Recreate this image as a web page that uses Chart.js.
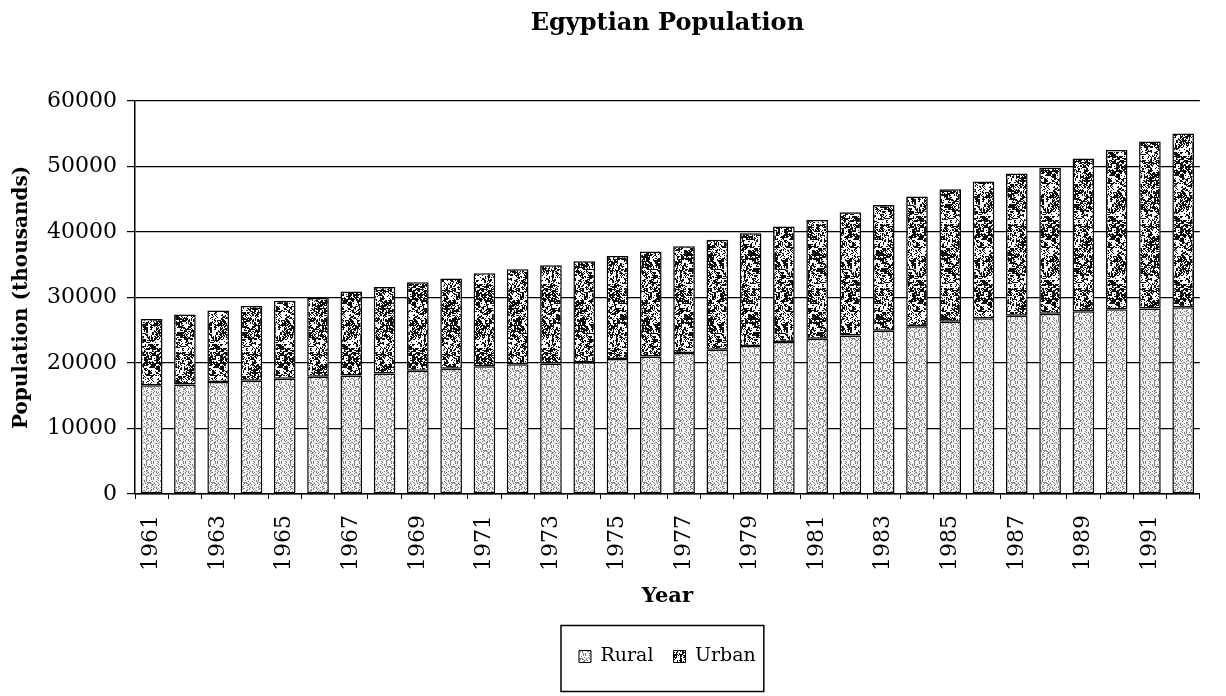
<!DOCTYPE html>
<html>
<head>
<meta charset="utf-8">
<script src="https://cdn.jsdelivr.net/npm/chart.js@4.4.0/dist/chart.umd.min.js"></script>
<style>
  body { margin: 0; background: #fff; }
  #wrap { width: 1226px; height: 696px; }
</style>
</head>
<body>
<div id="wrap"><canvas id="myChart"></canvas></div>
<script>
// Datos (miles de habitantes)
const years = [1961, 1962, 1963, 1964, 1965, 1966, 1967, 1968, 1969, 1970,
  1971, 1972, 1973, 1974, 1975, 1976, 1977, 1978, 1979, 1980,
  1981, 1982, 1983, 1984, 1985, 1986, 1987, 1988, 1989, 1990,
  1991, 1992];
const rural = [16600, 16700, 17100, 17300, 17600, 17900, 18100, 18400, 18800, 19100,
  19500, 19800, 19900, 20100, 20600, 21000, 21500, 22000, 22600, 23200,
  23700, 24200, 24900, 25600, 26300, 26800, 27200, 27500, 27900, 28200,
  28300, 28500];
const urban = [10100, 10700, 10900, 11400, 11900, 12000, 12800, 13200, 13500, 13800,
  14200, 14500, 15000, 15400, 15700, 16000, 16300, 16800, 17200, 17600,
  18100, 18800, 19200, 19800, 20200, 20900, 21700, 22300, 23300, 24300,
  25500, 26500];
const yTicks = [0, 10000, 20000, 30000, 40000, 50000, 60000];

const FONT = "DejaVu Serif";
const ctx = document.getElementById("myChart");

// Texturas de las barras
function hash(x, y, s) {
  let h = (x * 374761393 + y * 668265263 + s * 982451653) | 0;
  h = Math.imul(h ^ (h >>> 13), 1274126177);
  return ((h ^ (h >>> 16)) >>> 0) / 4294967295;
}

function ruralPattern() {
  const n = 16;
  const c = document.createElement("canvas");
  c.width = n; c.height = n;
  const g = c.getContext("2d");
  g.fillStyle = "#f4f4f4";
  g.fillRect(0, 0, n, n);
  g.fillStyle = "#808080";
  for (let y = 0; y < n; y++) {
    for (let x = 0; x < n; x++) {
      if (hash(x, y, 7) < 0.26) g.fillRect(x, y, 1, 1);
    }
  }
  return g.createPattern(c, "repeat");
}

function urbanPattern() {
  const n = 64;
  const c = document.createElement("canvas");
  c.width = n; c.height = n;
  const g = c.getContext("2d");
  g.fillStyle = "#fff";
  g.fillRect(0, 0, n, n);
  g.fillStyle = "#0d0d0d";
  for (let y = 0; y < n; y++) {
    for (let x = 0; x < n; x++) {
      // ruido a varias escalas, el mosaico se repite sin cortes
      const v = 0.4 * hash(x, y, 1) +
        0.35 * hash((x >> 1) % 32, (y >> 1) % 32, 2) +
        0.25 * hash((x >> 2) % 16, (y >> 2) % 16, 3);
      if (v < 0.5) g.fillRect(x, y, 1, 1);
    }
  }
  return g.createPattern(c, "repeat");
}

// Marco alrededor de la leyenda
const legendFrame = {
  id: "legendFrame",
  afterDraw(chart) {
    const boxes = chart.legend.legendHitBoxes;
    if (!boxes || !boxes.length) return;
    const left = Math.min(...boxes.map((b) => b.left)) - 18;
    const right = Math.max(...boxes.map((b) => b.left + b.width)) + 8;
    const cy = boxes[0].top + boxes[0].height / 2;
    const c = chart.ctx;
    c.save();
    c.strokeStyle = "#000";
    c.lineWidth = 1.5;
    c.strokeRect(left, cy - 31, right - left, 66);
    c.restore();
  },
};

const myChart = new Chart(ctx, {
  type: "bar",
  data: {
    labels: years,
    datasets: [
      {
        label: "Rural",
        data: rural,
        backgroundColor: ruralPattern(),
        borderColor: "#000",
        borderWidth: 1.5,
        borderSkipped: false,
      },
      {
        label: "Urban",
        data: urban,
        backgroundColor: urbanPattern(),
        borderColor: "#000",
        borderWidth: 1.5,
        borderSkipped: false,
      },
    ],
  },
  options: {
    responsive: true,
    maintainAspectRatio: false,
    animation: false,
    layout: { padding: { left: 0, right: 7, top: 0, bottom: 20 } },
    datasets: {
      bar: { barPercentage: 0.65, categoryPercentage: 1 },
    },
    plugins: {
      title: {
        display: true,
        text: "Egyptian Population",
        fullSize: false,
        color: "#000",
        font: { family: FONT, size: 24, weight: "bold" },
        padding: { top: 9, bottom: 63 },
      },
      legend: {
        position: "bottom",
        fullSize: false,
        labels: {
          color: "#000",
          font: { family: FONT, size: 19 },
          boxWidth: 12,
          boxHeight: 12,
          padding: 20,
          generateLabels(chart) {
            const items = Chart.defaults.plugins.legend.labels.generateLabels(chart);
            items.forEach((it) => { it.lineWidth = 1; });
            return items;
          },
        },
      },
      tooltip: { enabled: false },
    },
    scales: {
      x: {
        stacked: true,
        afterFit(scale) { scale.height = 133; },
        grid: {
          drawOnChartArea: false,
          color: "#000",
          tickLength: 5,
        },
        border: { color: "#000", width: 1.5 },
        ticks: {
          color: "#000",
          font: { family: FONT, size: 22 },
          autoSkip: false,
          minRotation: 90,
          maxRotation: 90,
          padding: 16,
          callback: (v, i) => (i % 2 === 0 ? years[i] : ""),
        },
        title: {
          display: true,
          text: "Year",
          color: "#000",
          font: { family: FONT, size: 21, weight: "bold" },
          padding: { top: 0, bottom: 18 },
        },
      },
      y: {
        stacked: true,
        min: 0,
        max: 60000,
        afterFit(scale) { scale.width = 135; },
        afterBuildTicks(scale) { scale.ticks = yTicks.map((v) => ({ value: v })); },
        grid: { color: "#000", lineWidth: 1.2, tickLength: 8 },
        border: { color: "#000", width: 1.5 },
        ticks: {
          color: "#000",
          font: { family: FONT, size: 22 },
          padding: 10,
          callback: (v) => String(v),
        },
        title: {
          display: true,
          text: "Population (thousands)",
          color: "#000",
          font: { family: FONT, size: 20, weight: "bold" },
          padding: { top: 10, bottom: 0 },
        },
      },
    },
  },
  plugins: [legendFrame],
});
</script>
</body>
</html>
